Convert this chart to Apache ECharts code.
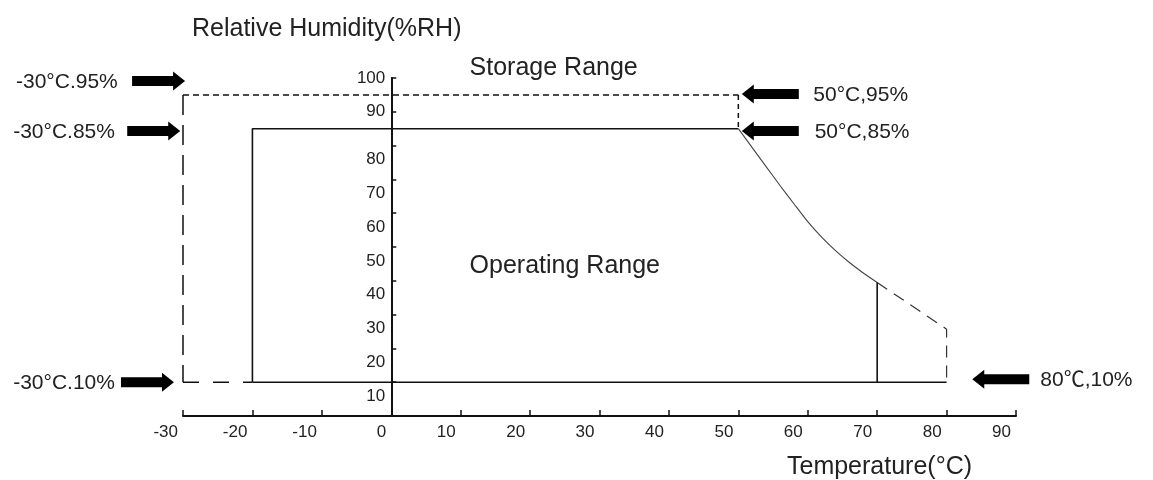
<!DOCTYPE html>
<html>
<head>
<meta charset="utf-8">
<script src="https://cdn.jsdelivr.net/npm/echarts@6/dist/echarts.min.js"></script>
<style>
html,body{margin:0;padding:0;background:#ffffff;}
#chart{width:1153px;height:480px;}
</style>
</head>
<body>
<div id="chart"></div>
<script>
// ---- data ----
const storageTop = [[-30, 95], [50, 95]];
const storageLeft = [[-30, 95], [-30, 10]];
const storageBottomLeft = [[-30, 10], [-20, 10]];
const storageRightTop = [[50, 95], [50, 85]];
const storageDerating = [[70, 39.5], [80, 25.7], [80, 10]];
const operatingBox = [[-20, 10], [-20, 85], [50, 85]];
const deratingCurve = [[50, 85], [52, 79.4], [54, 73.8], [56, 68.2], [58, 62.8], [60, 57.5], [62, 52.9], [64, 48.9], [66, 45.4], [68, 42.3], [70, 39.5]];
const operatingRight = [[70, 39.5], [70, 10]];
const baseLine = [[-20, 10], [80, 10]];

const calloutLabels = ['-30°C.95%', '-30°C.85%', '-30°C.10%', '50°C,95%', '50°C,85%', '80℃,10%'];
const calloutTipTemp = [-29.7, -30.4, -31.3, 50.5, 50.5, 83.7];
const calloutTipRH = [99.1, 84.3, 10, 95.3, 84.3, 10.9];
const calloutTextTemp = [-39.4, -39.8, -39.8, 60.8, 61.0, 93.5];
const calloutDir = [1, 1, 1, -1, -1, -1];

const regionNames = ['Storage Range', 'Operating Range'];
const regionTemp = [23.4, 25.0];
const regionRH = [103, 44.4];

const xName = 'Temperature(°C)';
const yName = 'Relative Humidity(%RH)';
const xMin = -30, xMax = 90, yMin = 0, yMax = 100, step = 10;

// ---- chart ----
const FONT = '"Liberation Sans", Arial, "Noto Sans CJK SC", sans-serif';
const INK = '#111';
const W = 1153, GL = 183, GR = 137, GT = 78, GB = 64;
const yAxisShift = (0 - xMin) / (xMax - xMin) * (W - GL - GR); // place y axis at temperature 0

const chart = echarts.init(document.getElementById('chart'), null, {renderer: 'canvas'});

function lineSeries(name, data, width, type, color) {
  return {
    name: name, type: 'line', data: data, symbol: 'none', silent: true,
    animation: false, clip: false,
    lineStyle: {color: color || INK, width: width, type: type || 'solid'}
  };
}

const option = {
  animation: false,
  backgroundColor: '#ffffff',
  textStyle: {fontFamily: FONT, color: '#222'},
  grid: {left: GL, right: GR, top: GT, bottom: GB, containLabel: false, outerBoundsMode: 'none'},
  xAxis: {
    type: 'value', min: xMin, max: xMax, interval: step,
    name: xName, nameLocation: 'middle', nameGap: 51,
    nameTextStyle: {fontSize: 25, color: '#222', fontFamily: FONT, align: 'center', verticalAlign: 'middle', padding: [0, 0, 0, 560]},
    axisLine: {onZero: false, lineStyle: {color: INK, width: 2}},
    axisTick: {inside: true, length: 6, lineStyle: {color: INK, width: 1.5}},
    axisLabel: {fontSize: 17, color: '#222', fontFamily: FONT, align: 'right', padding: [0, 5, 0, 0], margin: 8, showMinLabel: true, showMaxLabel: true},
    splitLine: {show: false}
  },
  yAxis: {
    type: 'value', min: yMin, max: yMax, interval: step,
    position: 'left', offset: -yAxisShift,
    name: yName, nameLocation: 'end', nameGap: 49,
    nameTextStyle: {fontSize: 25, color: '#222', fontFamily: FONT, align: 'center', verticalAlign: 'middle', padding: [0, 129, 0, 0]},
    axisLine: {onZero: false, lineStyle: {color: INK, width: 2}},
    axisTick: {inside: true, length: 5, lineStyle: {color: INK, width: 1.5}},
    axisLabel: {
      fontSize: 17, color: '#222', fontFamily: FONT, margin: 6, lineHeight: 28,
      showMinLabel: true, showMaxLabel: true,
      formatter: function (v) { if (v === 0) return ''; return v >= 90 ? String(v) : '\n' + v; }
    },
    splitLine: {show: false}
  },
  series: [
    lineSeries('storageTop', storageTop, 1.5, [6, 4]),
    lineSeries('storageLeft', storageLeft, 1.5, [20, 10]),
    lineSeries('storageBottomLeft', storageBottomLeft, 1.5, [16, 14]),
    lineSeries('storageRightTop', storageRightTop, 1.5, [5, 4]),
    lineSeries('storageDerating', storageDerating, 1.2, [12, 8], '#333'),
    lineSeries('operatingBox', operatingBox, 1.6),
    Object.assign(lineSeries('deratingCurve', deratingCurve, 1.1, 'solid', '#444'), {smooth: 0.25}),
    lineSeries('operatingRight', operatingRight, 1.6),
    lineSeries('baseLine', baseLine, 1.6),
    {
      name: 'regions', type: 'custom', silent: true, clip: false, animation: false,
      data: regionNames.map(function (n, i) { return [regionTemp[i], regionRH[i]]; }),
      renderItem: function (params, api) {
        const p = api.coord([api.value(0), api.value(1)]);
        return {type: 'text', x: p[0], y: p[1], style: {
          text: regionNames[params.dataIndex], fontSize: 25, fontFamily: FONT, fill: '#222',
          align: 'center', verticalAlign: 'middle'
        }};
      }
    },
    {
      name: 'callouts', type: 'custom', silent: true, clip: false, animation: false,
      data: calloutLabels.map(function (t, i) { return [calloutTipTemp[i], calloutTipRH[i], calloutTextTemp[i], calloutDir[i]]; }),
      renderItem: function (params, api) {
        const i = params.dataIndex;
        const tip = api.coord([api.value(0), api.value(1)]);
        const txt = api.coord([api.value(2), api.value(1)]);
        const dir = api.value(3);
        const L = dir > 0 ? 53 : 57, hl = 12, hh = 9.5, sh = 5;
        const tx = tip[0], ty = tip[1];
        const bx = tx - dir * hl, ex = tx - dir * L;
        const pts = [[tx, ty], [bx, ty - hh], [bx, ty - sh], [ex, ty - sh], [ex, ty + sh], [bx, ty + sh], [bx, ty + hh]];
        return {
          type: 'group',
          children: [
            {type: 'polygon', shape: {points: pts}, style: {fill: '#000'}},
            {type: 'text', x: txt[0], y: ty + 1, style: {
              text: calloutLabels[i], fontSize: 21, fontFamily: FONT, fill: '#222',
              align: dir > 0 ? 'right' : 'left', verticalAlign: 'middle'
            }}
          ]
        };
      }
    }
  ]
};
chart.setOption(option);
</script>
</body>
</html>
